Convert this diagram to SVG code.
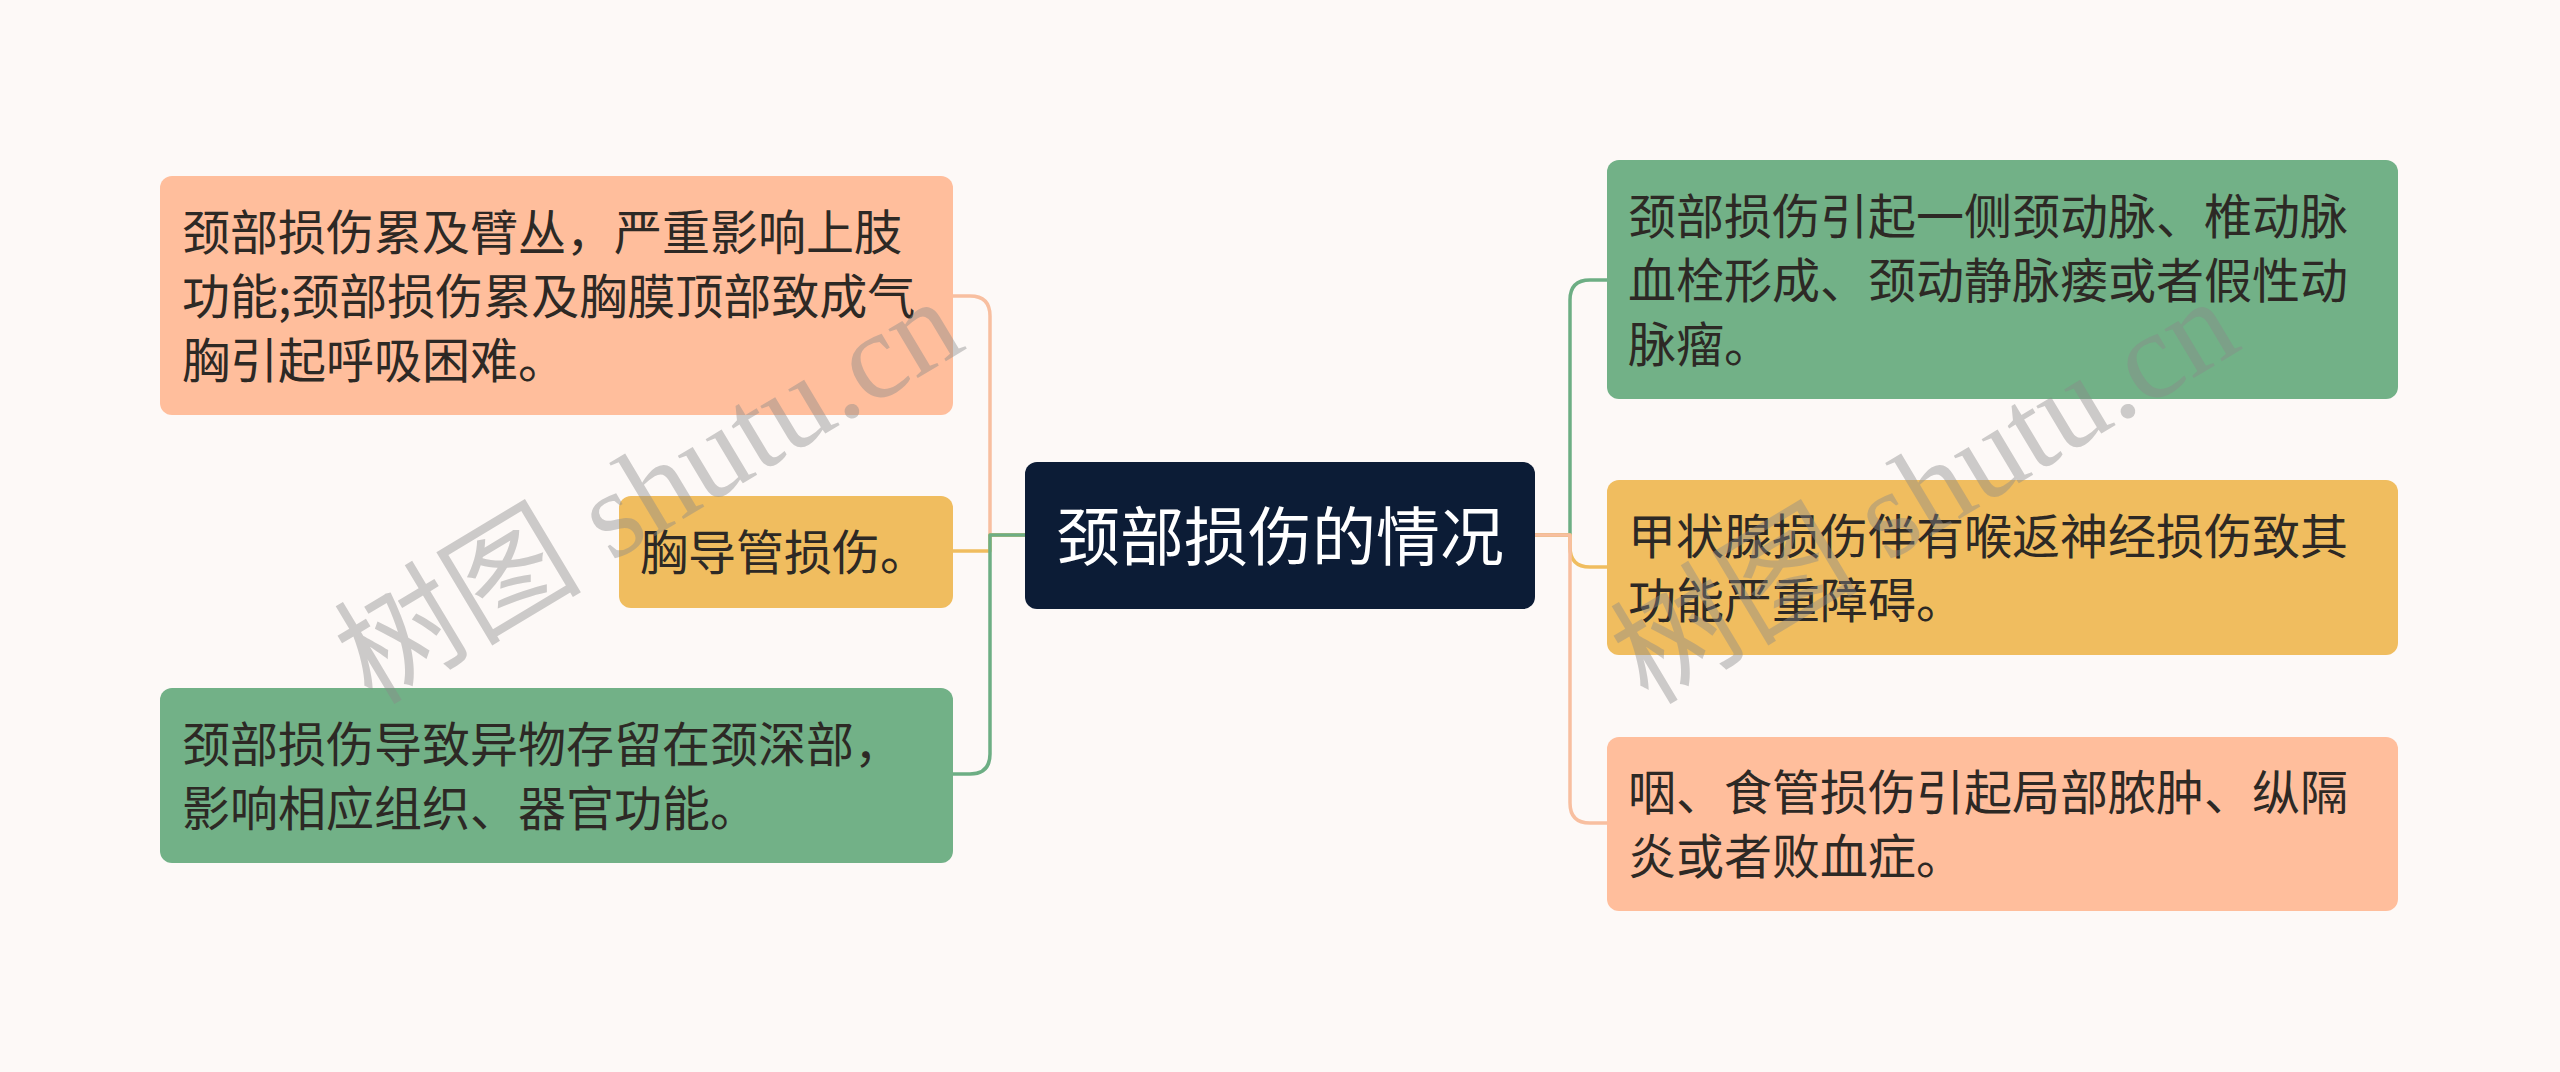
<svg xmlns="http://www.w3.org/2000/svg" width="2560" height="1072" viewBox="0 0 2560 1072">
<style>
.t{font-family:"Noto Sans CJK SC","Noto Sans",sans-serif;font-size:48px;fill:#2d2925}
.c{font-family:"Noto Sans CJK SC","Noto Sans",sans-serif;font-size:64px;fill:#ffffff}
.ln{fill:none;stroke-width:3.5;stroke-linejoin:round}
.wm{font-family:"Liberation Serif","Noto Sans CJK SC",serif;font-size:124px;fill:#8a8a8a;opacity:0.42}
</style>
<rect width="2560" height="1072" fill="#FDF9F7"/>
<g id="connectors">
<path class="ln" stroke="#F8BFA0" d="M1026 535 H990 V316 Q990 296 970 296 H953"/>
<path class="ln" stroke="#F0BD5F" d="M1026 535 H990 V551 H953"/>
<path class="ln" stroke="#6DAE84" d="M1026 535 H990 V754 Q990 774 970 774 H953"/>
<path class="ln" stroke="#6DAE84" d="M1535 535 H1570 V300 Q1570 280 1590 280 H1607"/>
<path class="ln" stroke="#F0BD5F" d="M1535 535 H1570 V547 Q1570 567 1590 567 H1607"/>
<path class="ln" stroke="#F8BFA0" d="M1535 535 H1570 V803 Q1570 823 1590 823 H1607"/>
</g>
<g id="center">
<rect x="1025" y="462" width="510" height="147" rx="12" fill="#0C1C36"/>
<text class="c" x="1280" y="560" text-anchor="middle">颈部损伤的情况</text>
</g>
<g id="left1">
<rect x="160" y="176" width="793" height="239" rx="12" fill="#FFBE9C"/>
<text class="t" x="182" y="250">颈部损伤累及臂丛，严重影响上肢</text>
<text class="t" x="182" y="314">功能;颈部损伤累及胸膜顶部致成气</text>
<text class="t" x="182" y="378">胸引起呼吸困难。</text>
</g>
<g id="left2">
<rect x="619" y="496" width="334" height="112" rx="12" fill="#F0BD5F"/>
<text class="t" x="640" y="570">胸导管损伤。</text>
</g>
<g id="left3">
<rect x="160" y="688" width="793" height="175" rx="12" fill="#72B187"/>
<text class="t" x="182" y="762">颈部损伤导致异物存留在颈深部，</text>
<text class="t" x="182" y="826">影响相应组织、器官功能。</text>
</g>
<g id="right1">
<rect x="1607" y="160" width="791" height="239" rx="12" fill="#72B187"/>
<text class="t" x="1628" y="234">颈部损伤引起一侧颈动脉、椎动脉</text>
<text class="t" x="1628" y="298">血栓形成、颈动静脉瘘或者假性动</text>
<text class="t" x="1628" y="362">脉瘤。</text>
</g>
<g id="right2">
<rect x="1607" y="480" width="791" height="175" rx="12" fill="#F0BD5F"/>
<text class="t" x="1628" y="554">甲状腺损伤伴有喉返神经损伤致其</text>
<text class="t" x="1628" y="618">功能严重障碍。</text>
</g>
<g id="right3">
<rect x="1607" y="737" width="791" height="174" rx="12" fill="#FFBE9C"/>
<text class="t" x="1628" y="810">咽、食管损伤引起局部脓肿、纵隔</text>
<text class="t" x="1628" y="874">炎或者败血症。</text>
</g>
<g id="watermark">
<text class="wm" transform="translate(372,706) rotate(-31)">树图 shutu.cn</text>
<text class="wm" transform="translate(1648,706) rotate(-31)">树图 shutu.cn</text>
</g>
</svg>
